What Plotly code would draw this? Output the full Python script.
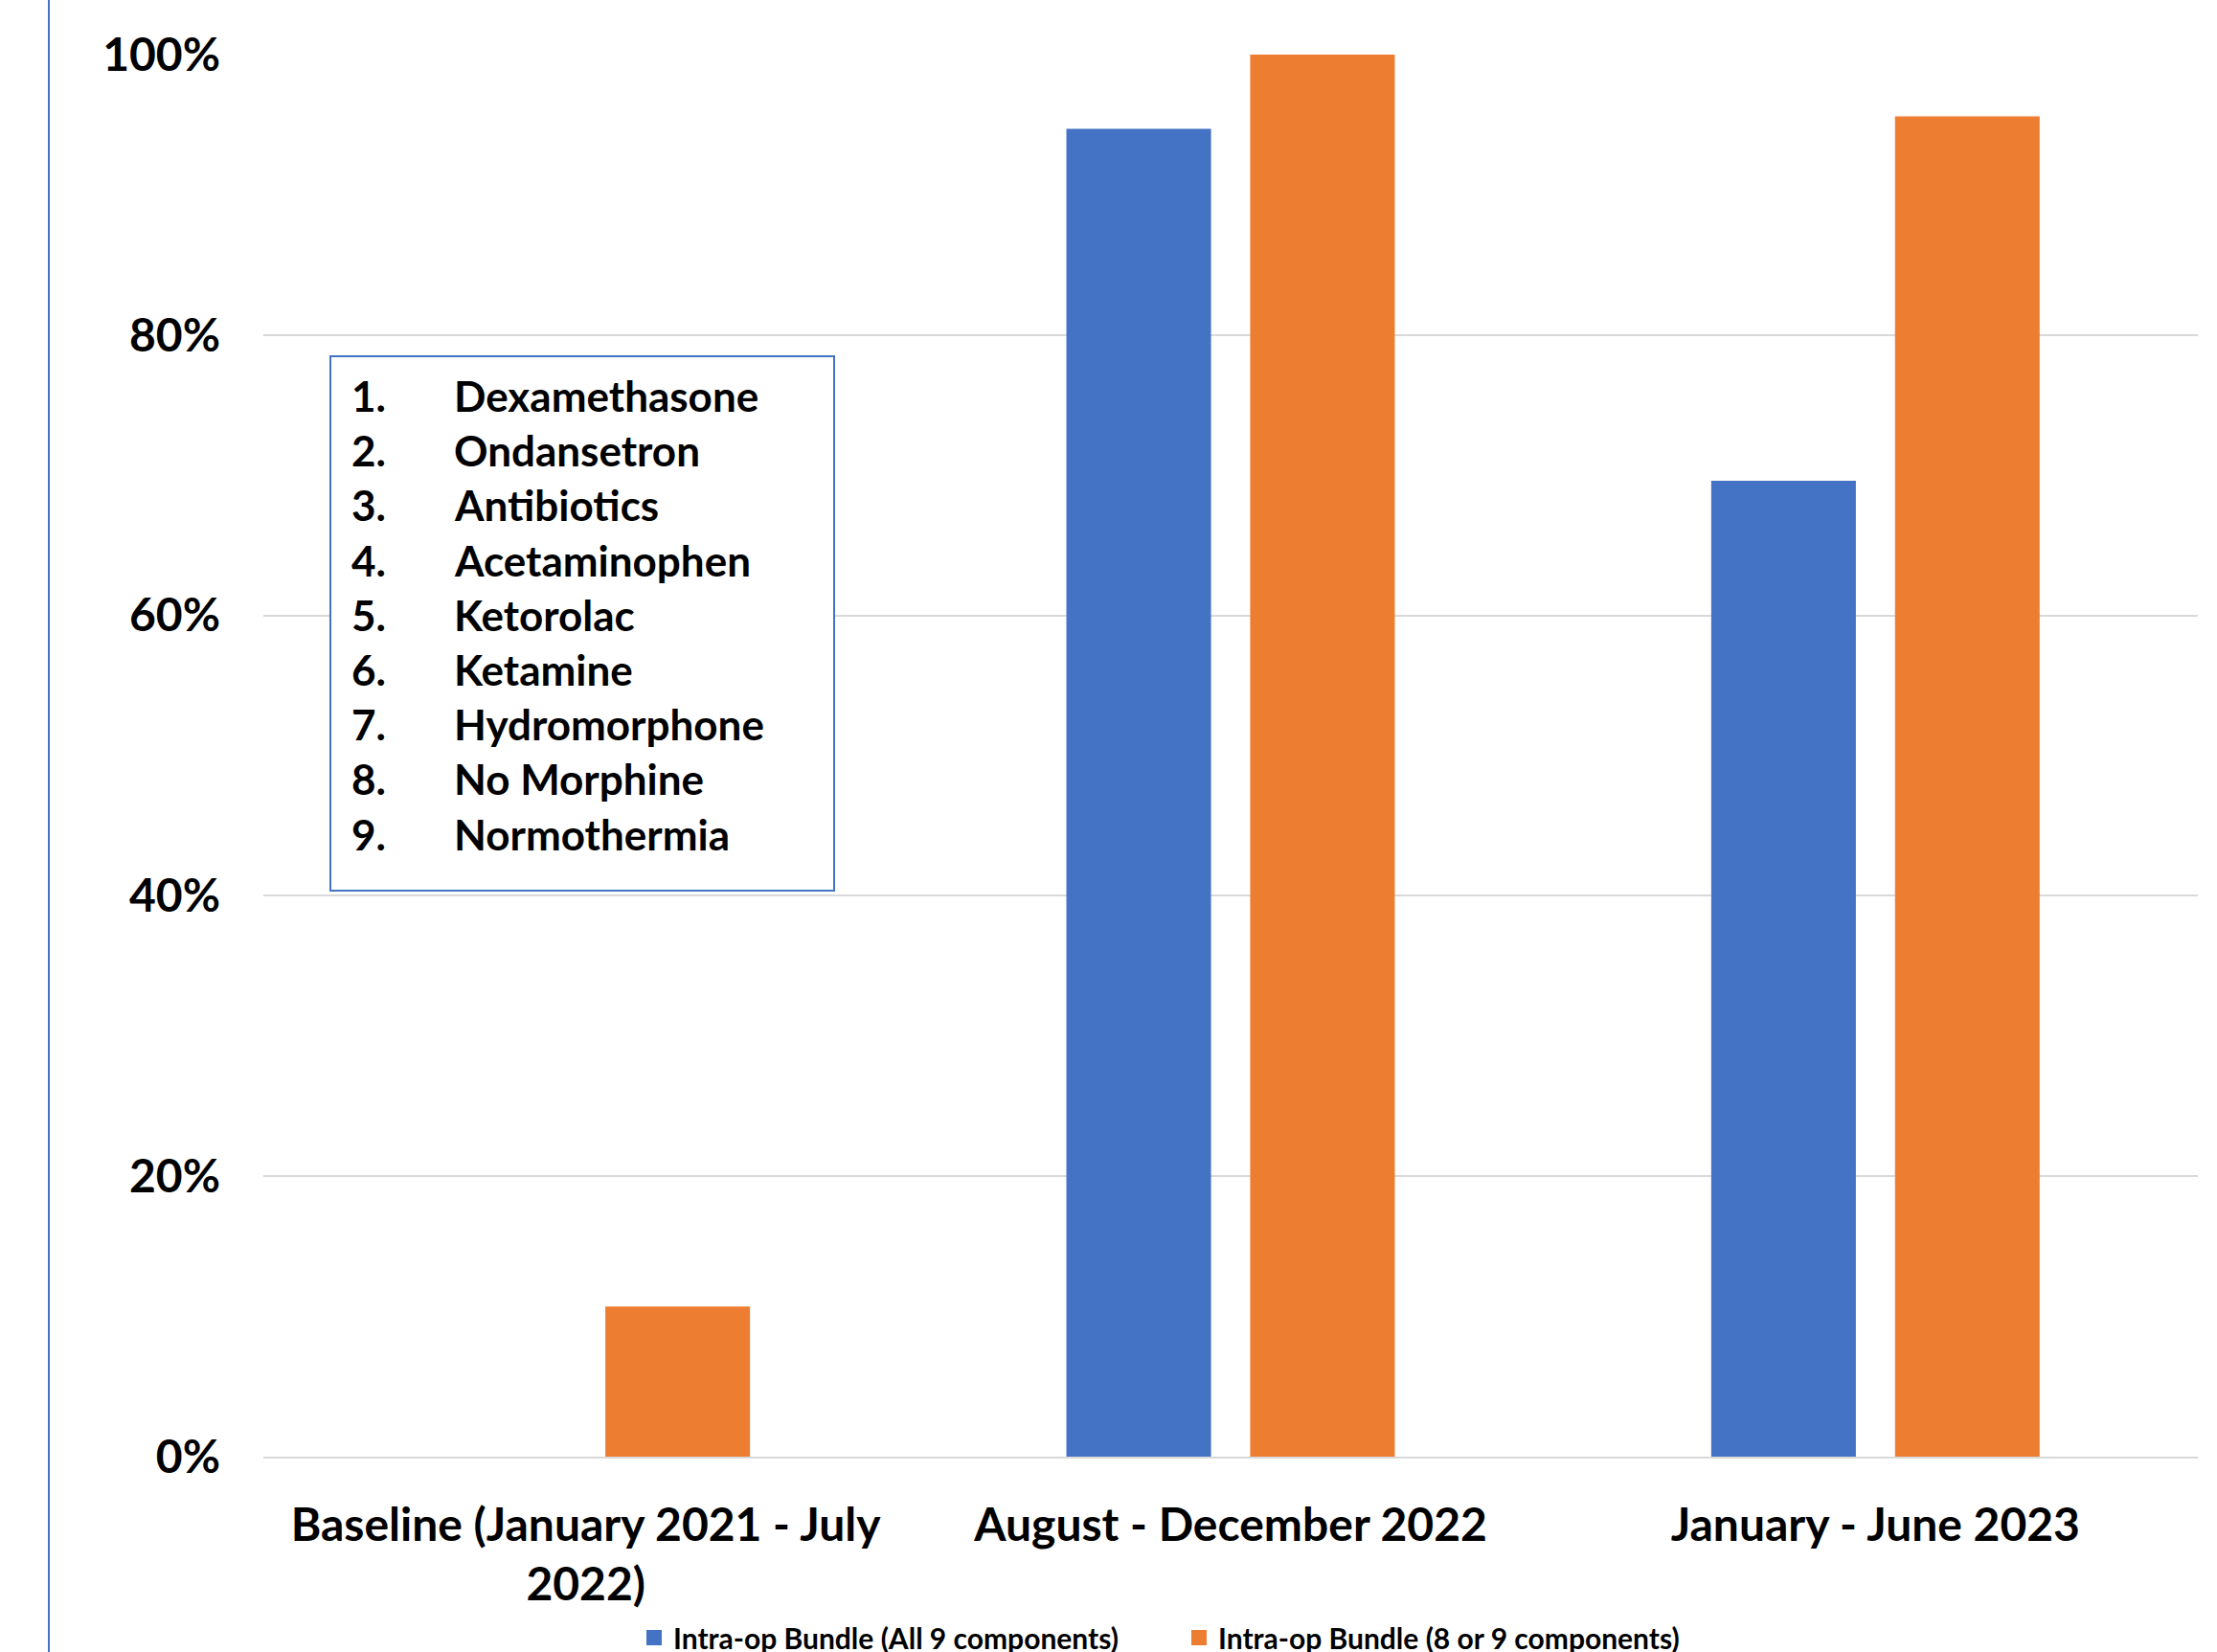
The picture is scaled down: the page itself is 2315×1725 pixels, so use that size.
import plotly.graph_objects as go

# Reporting periods and compliance rates for the intra-operative bundle
periods = [
    "Baseline (January 2021 - July<br>2022)",
    "August - December 2022",
    "January - June 2023",
]
all_nine = [0.0, 0.947, 0.696]
eight_or_nine = [0.107, 1.0, 0.956]
series_names = [
    "Intra-op Bundle (All 9 components)",
    "Intra-op Bundle (8 or 9 components)",
]
bundle_items = [
    "Dexamethasone",
    "Ondansetron",
    "Antibiotics",
    "Acetaminophen",
    "Ketorolac",
    "Ketamine",
    "Hydromorphone",
    "No Morphine",
    "Normothermia",
]
y_ticks = [0, 0.2, 0.4, 0.6, 0.8, 1.0]
y_tick_text = ["0%", "20%", "40%", "60%", "80%", "100%"]

BLUE = "#4472C4"
ORANGE = "#ED7D31"
FONT = "Lato"

W, H = 2315, 1725
ML, MR, MT, MB = 275, 20, 57, 204
PW, PH = W - ML - MR, H - MT - MB


def px_x(px):
    return (px - ML) / PW


def px_y(py):
    return (H - MB - py) / PH


fig = go.Figure()
for vals, name, color in [(all_nine, series_names[0], BLUE),
                          (eight_or_nine, series_names[1], ORANGE)]:
    fig.add_trace(go.Bar(x=periods, y=vals, name=name, showlegend=False,
                         marker=dict(color=color, line=dict(width=0))))
    # legend entry drawn with a larger square swatch
    fig.add_trace(go.Scatter(x=[None], y=[None], mode="markers", name=name,
                             marker=dict(symbol="square", size=16, color=color,
                                         line=dict(width=0))))

# Boxed list of the nine bundle components
box_left, box_right, box_top, box_bottom = 345, 871, 372, 930
shapes = [
    dict(type="rect", xref="paper", yref="paper",
         x0=px_x(box_left), x1=px_x(box_right),
         y0=px_y(box_bottom), y1=px_y(box_top),
         line=dict(color=BLUE, width=2), fillcolor="white", layer="above"),
    # vertical rule along the left edge
    dict(type="line", xref="paper", yref="paper",
         x0=px_x(51), x1=px_x(51), y0=px_y(H), y1=px_y(0),
         line=dict(color=BLUE, width=2)),
]

annotations = []
first_line, line_step = 413, 57.2
for i, item in enumerate(bundle_items):
    yy = px_y(first_line + i * line_step)
    annotations.append(dict(xref="paper", yref="paper", x=px_x(365), y=yy,
                            xanchor="left", yanchor="middle", showarrow=False,
                            text=f"{i + 1}.",
                            font=dict(family=FONT, size=44, color="black", weight="bold")))
    annotations.append(dict(xref="paper", yref="paper", x=px_x(472), y=yy,
                            xanchor="left", yanchor="middle", showarrow=False,
                            text=item,
                            font=dict(family=FONT, size=44, color="black", weight="bold")))

fig.update_layout(
    width=W, height=H,
    margin=dict(l=ML, r=MR, t=MT, b=MB, pad=0, autoexpand=False),
    paper_bgcolor="white", plot_bgcolor="white",
    barmode="group", bargap=0.43, bargroupgap=0.213,
    font=dict(family=FONT, color="black"),
    showlegend=True,
    legend=dict(orientation="h", xref="container", yref="container",
                x=663 / W, y=(H - 1710) / H,
                xanchor="left", yanchor="middle",
                font=dict(family=FONT, size=30, color="black", weight="bold"),
                bgcolor="rgba(0,0,0,0)", itemclick=False,
                entrywidth=524, entrywidthmode="pixels"),
    shapes=shapes,
    annotations=annotations,
)

fig.update_yaxes(
    range=[0, 1], tickvals=y_ticks, ticktext=y_tick_text,
    showgrid=True, gridcolor="#D9D9D9", gridwidth=2,
    zeroline=False, showline=False, ticks="",
    ticklabelstandoff=44,
    tickfont=dict(family=FONT, size=48, color="black", weight="bold"),
)
fig.update_xaxes(
    showgrid=False, showline=True, linecolor="#D9D9D9", linewidth=2,
    ticks="", ticklabelstandoff=28,
    tickfont=dict(family=FONT, size=48, color="black", weight="bold"),
)

fig.write_html("out.html")
